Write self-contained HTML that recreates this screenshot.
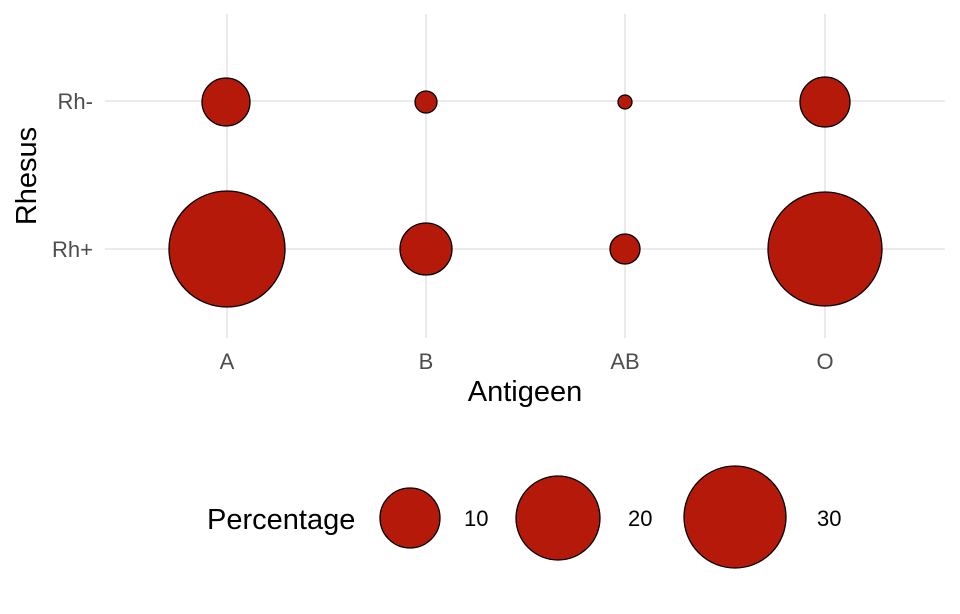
<!DOCTYPE html>
<html><head><meta charset="utf-8"><style>
html,body{margin:0;padding:0;background:#fff;}
svg{display:block;font-family:"Liberation Sans",sans-serif;}
</style></head><body>
<svg width="960" height="614" viewBox="0 0 960 614" xmlns="http://www.w3.org/2000/svg">
<rect width="960" height="614" fill="#fff"/>
<g stroke="#ebebeb" stroke-width="2">
<line x1="227" y1="14" x2="227" y2="338"/>
<line x1="426" y1="14" x2="426" y2="338"/>
<line x1="625" y1="14" x2="625" y2="338"/>
<line x1="825" y1="14" x2="825" y2="338"/>
<line x1="105" y1="101" x2="945" y2="101"/>
<line x1="105" y1="249" x2="945" y2="249"/>
</g>
<g fill="#B5190A" stroke="#000" stroke-width="1.3">
<circle cx="227" cy="249" r="58"/>
<circle cx="825" cy="249" r="57"/>
<circle cx="426" cy="249" r="26"/>
<circle cx="625" cy="249" r="15"/>
<circle cx="226" cy="102" r="24"/>
<circle cx="426" cy="102" r="11"/>
<circle cx="625" cy="102" r="7"/>
<circle cx="825" cy="102" r="25"/>
</g>
<g fill="#4d4d4d" font-size="22" text-anchor="middle">
<text x="227" y="369">A</text>
<text x="426" y="369">B</text>
<text x="625" y="369">AB</text>
<text x="825" y="369">O</text>
<text x="93" y="109" text-anchor="end">Rh-</text>
<text x="93" y="257" text-anchor="end">Rh+</text>
</g>
<text x="525" y="401" font-size="29" text-anchor="middle" fill="#000">Antigeen</text>
<text transform="translate(36,176) rotate(-90)" font-size="29" text-anchor="middle" fill="#000">Rhesus</text>
<text x="207" y="529" font-size="29" fill="#000">Percentage</text>
<g fill="#B5190A" stroke="#000" stroke-width="1.3">
<circle cx="410" cy="518" r="30"/>
<circle cx="558" cy="518" r="42"/>
<circle cx="735" cy="517" r="51"/>
</g>
<g font-size="22" fill="#000">
<text x="464" y="526">10</text>
<text x="628" y="526">20</text>
<text x="817" y="526">30</text>
</g>
</svg>
</body></html>
